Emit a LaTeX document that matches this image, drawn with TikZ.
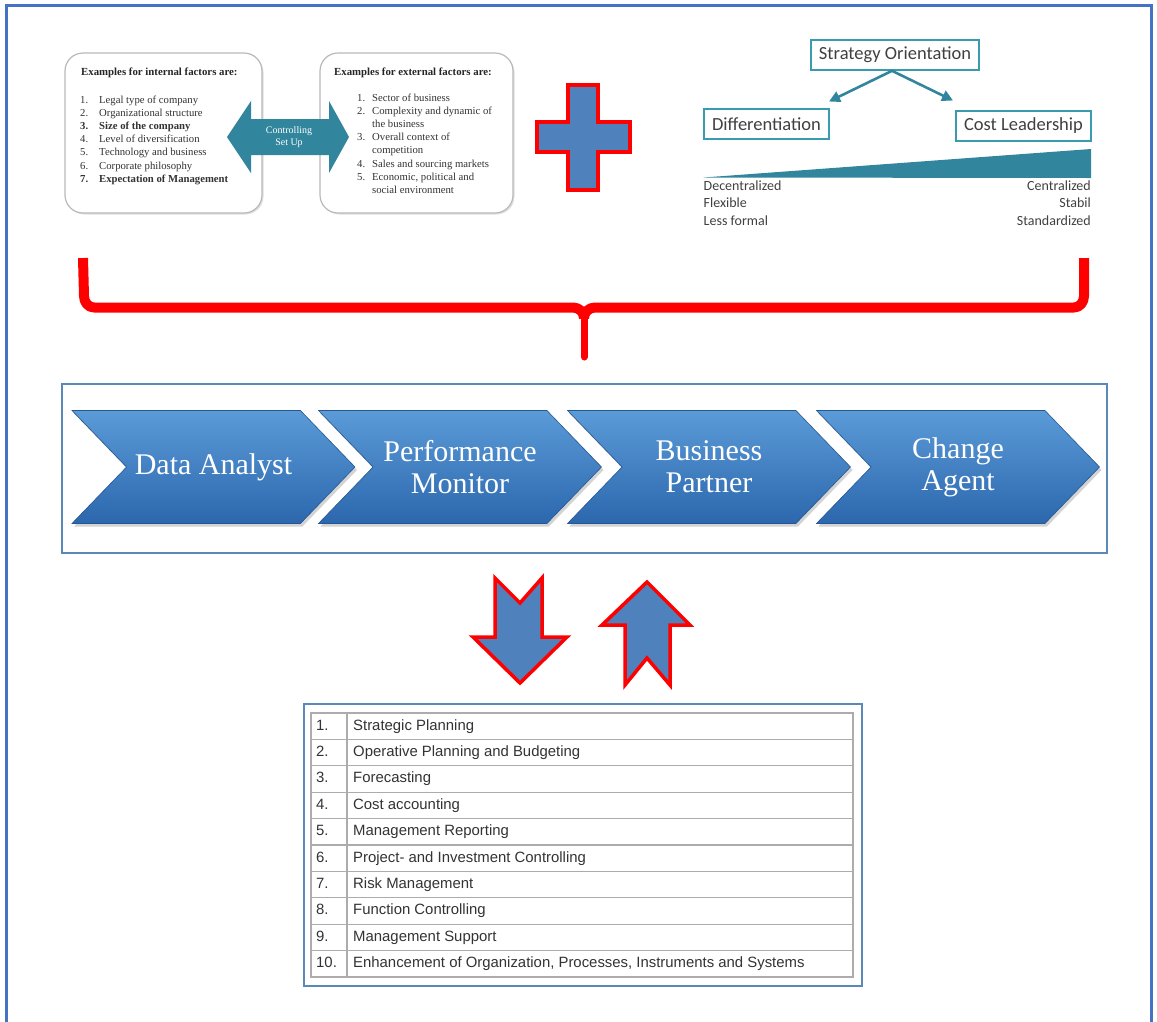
\documentclass[tikz,border=0pt]{standalone}
\usepackage{fontspec}
\setmainfont{Liberation Serif}
\newfontfamily\calibri{Carlito}
\newfontfamily\arial{Liberation Sans}
\usetikzlibrary{positioning,calc,shapes.symbols,shadows,arrows.meta}

\definecolor{frameblue}{HTML}{4472C4}
\definecolor{tealdark}{HTML}{31859C}
\definecolor{tealline}{HTML}{3A9BAF}
\definecolor{shapeblue}{HTML}{4F81BD}
\definecolor{chevtop}{HTML}{5B9BD8}
\definecolor{chevbot}{HTML}{2C67AD}
\definecolor{panelblue}{HTML}{5A88B8}

\begin{document}
\begin{tikzpicture}[
    x=1pt, y=-1pt,
    factorbox/.style={draw=gray!55, line width=1.2pt, fill=white, rounded corners=18pt,
        drop shadow={opacity=0.25, shadow xshift=1.5pt, shadow yshift=-1.5pt}},
    factortitle/.style={anchor=base west, inner sep=0pt, font=\fontsize{10.8}{12}\selectfont\bfseries, text=black!85},
    listitem/.style={anchor=base west, inner sep=0pt, font=\fontsize{10.7}{12}\selectfont, text=black!80},
    ctrllabel/.style={align=center, inner sep=0pt, text=white, font=\fontsize{10}{11.5}\selectfont},
    redshape/.style={fill=shapeblue, draw=red, line width=3.5pt, line join=miter},
    stratbox/.style={draw=tealline, line width=1.6pt, fill=white, inner xsep=8pt, minimum height=30pt,
        font=\calibri\fontsize{18.5}{20}\selectfont, text=black!75},
    stratarrow/.style={->, >={Triangle[length=11pt,width=11pt]}, draw=tealdark, line width=2.6pt},
    stratlabel/.style={inner sep=0pt, font=\calibri\fontsize{14}{16}\selectfont, text=black!75},
    brace/.style={draw=red, line width=10pt, line join=round},
    chevron/.style={signal, signal from=west, signal to=east, signal pointer angle=92,
        minimum width=283pt, minimum height=113pt, inner sep=0pt,
        top color=chevtop, bottom color=chevbot, draw=chevbot!85!black, line width=0.6pt,
        text=white, align=center, font=\fontsize{30}{32}\selectfont,
        drop shadow={opacity=0.35, shadow xshift=2pt, shadow yshift=-3pt}},
    tablebox/.style={draw=panelblue, line width=1.6pt, fill=white, minimum width=558pt, minimum height=282pt},
    rowline/.style={draw=gray!65, line width=1.3pt},
    cell/.style={anchor=base west, inner sep=0pt, font=\arial\fontsize{14.9}{16}\selectfont, text=black!80}
]
\useasboundingbox (0,0) rectangle (1157,1021);

% Outer frame
\draw[frameblue, line width=3pt] (6,1030) -- (6,5.5) -- (1151,5.5) -- (1151,1030);

% Internal and external factor boxes
\node[factorbox, minimum width=197pt, minimum height=160pt] (internal) at (163.5,133) {};
\node[factorbox, minimum width=193pt, minimum height=160pt] (external) at (416.5,133) {};

\node[factortitle] (inttitle) at (81,75) {Examples for internal factors are:};
\node[listitem] (intn1) at (80,103.5) {1.};
\node[listitem] (intt1) at (99,103.5) {Legal type of company};
\node[listitem] (intn2) at (80,116.6) {2.};
\node[listitem] (intt2) at (99,116.6) {Organizational structure};
\node[listitem] (intn3) at (80,129.7) {\textbf{3.}};
\node[listitem] (intt3) at (99,129.7) {\textbf{Size of the company}};
\node[listitem] (intn4) at (80,142.8) {4.};
\node[listitem] (intt4) at (99,142.8) {Level of diversification};
\node[listitem] (intn5) at (80,155.9) {5.};
\node[listitem] (intt5) at (99,155.9) {Technology and business};
\node[listitem] (intn6) at (80,169) {6.};
\node[listitem] (intt6) at (99,169) {Corporate philosophy};
\node[listitem] (intn7) at (80,182.1) {\textbf{7.}};
\node[listitem] (intt7) at (99,182.1) {\textbf{Expectation of Management}};

\node[factortitle] (exttitle) at (334,75) {Examples for external factors are:};
\node[listitem] (extn1) at (357,101.5) {1.};
\node[listitem] (extt1) at (372,101.5) {Sector of business};
\node[listitem] (extn2) at (357,114.6) {2.};
\node[listitem] (extt2) at (372,114.6) {Complexity and dynamic of};
\node[listitem] (extt2b) at (372,127.7) {the business};
\node[listitem] (extn3) at (357,140.8) {3.};
\node[listitem] (extt3) at (372,140.8) {Overall context of};
\node[listitem] (extt3b) at (372,153.9) {competition};
\node[listitem] (extn4) at (357,167) {4.};
\node[listitem] (extt4) at (372,167) {Sales and sourcing markets};
\node[listitem] (extn5) at (357,180.1) {5.};
\node[listitem] (extt5) at (372,180.1) {Economic, political and};
\node[listitem] (extt5b) at (372,193.2) {social environment};

% Controlling set up double arrow
\fill[tealdark] (227,137) -- (251,101) -- (251,119) -- (329,119) -- (329,101) -- (349,137)
    -- (329,173) -- (329,155) -- (251,155) -- (251,173) -- cycle;
\node[ctrllabel] (ctrl) at (289,137) {Controlling\\Set Up};

% Plus sign
\draw[redshape] (568,85) -- (598,85) -- (598,122) -- (630,122) -- (630,152) -- (598,152)
    -- (598,190) -- (568,190) -- (568,152) -- (537,152) -- (537,122) -- (568,122) -- cycle;

% Strategy orientation
\node[stratbox] (orient) at (895,55) {Strategy Orientation};
\node[stratbox] (diff) at (766.5,124) {Differentiation};
\node[stratbox] (cost) at (1023.5,126) {Cost Leadership};
\coordinate (difftip) at (829,101.5);
\coordinate (costtip) at (953,100.5);
\draw[stratarrow] ([xshift=-3pt]orient.south) -- (difftip);
\draw[stratarrow] ([xshift=-3pt]orient.south) -- (costtip);

\fill[tealdark] (703.5,177.5) -- (1091,149) -- (1091,178) -- cycle;
\node[stratlabel, anchor=base west] (decent) at (703.5,190) {Decentralized};
\node[stratlabel, anchor=base west] (flex) at (703.5,207.5) {Flexible};
\node[stratlabel, anchor=base west] (lessform) at (703.5,225) {Less formal};
\node[stratlabel, anchor=base east] (cent) at (1091,190) {Centralized};
\node[stratlabel, anchor=base east] (stabil) at (1091,207.5) {Stabil};
\node[stratlabel, anchor=base east] (stand) at (1091,225) {Standardized};

% Red brace
\draw[brace] (83,258) -- (84,296) to[out=-90,in=180] (94,307.5) -- (573,307.5) to[out=0,in=90] (584,318);
\draw[brace] (584,318) to[out=90,in=180] (595,307.5) -- (1074,307.5) to[out=0,in=-90] (1084,296) -- (1084,258);
\draw[red, line width=7pt, line cap=round] (584,312) -- (584,357);

% Controller roles
\draw[panelblue, line width=1.6pt] (62,384) rectangle (1107,553);
\node[chevron] (analyst) at (213.5,467) {Data Analyst};
\node[chevron] (monitor) at (460,467) {Performance\\Monitor};
\node[chevron] (partner) at (709,467) {Business\\Partner};
\node[chevron] (agent) at (958,467) {Change\\Agent};

% Up and down arrows
\draw[redshape] (495,578) -- (520,603) -- (542,578) -- (542,637) -- (567,637) -- (520,683)
    -- (473,637) -- (495,637) -- cycle;
\draw[redshape] (647,582) -- (690,625) -- (670,625) -- (670,685) -- (647,658) -- (625,685)
    -- (625,625) -- (602,625) -- cycle;

% Controlling tasks
\node[tablebox] (tasks) at (583,845) {};
\draw[rowline] (311,713) rectangle (853,977);
\draw[rowline] (347,713) -- (347,977);
\draw[rowline] (311,739.4) -- (853,739.4) (311,765.8) -- (853,765.8) (311,792.2) -- (853,792.2)
    (311,818.6) -- (853,818.6) (311,845) -- (853,845) (311,871.4) -- (853,871.4)
    (311,897.8) -- (853,897.8) (311,924.2) -- (853,924.2) (311,950.6) -- (853,950.6);

\node[cell] (num1) at (316,730) {1.};
\node[cell] (task1) at (353,730) {Strategic Planning};
\node[cell] (num2) at (316,756.4) {2.};
\node[cell] (task2) at (353,756.4) {Operative Planning and Budgeting};
\node[cell] (num3) at (316,782.8) {3.};
\node[cell] (task3) at (353,782.8) {Forecasting};
\node[cell] (num4) at (316,809.2) {4.};
\node[cell] (task4) at (353,809.2) {Cost accounting};
\node[cell] (num5) at (316,835.6) {5.};
\node[cell] (task5) at (353,835.6) {Management Reporting};
\node[cell] (num6) at (316,862) {6.};
\node[cell] (task6) at (353,862) {Project- and Investment Controlling};
\node[cell] (num7) at (316,888.4) {7.};
\node[cell] (task7) at (353,888.4) {Risk Management};
\node[cell] (num8) at (316,914.8) {8.};
\node[cell] (task8) at (353,914.8) {Function Controlling};
\node[cell] (num9) at (316,941.2) {9.};
\node[cell] (task9) at (353,941.2) {Management Support};
\node[cell] (num10) at (316,967.6) {10.};
\node[cell] (task10) at (353,967.6) {Enhancement of Organization, Processes, Instruments and Systems};

\end{tikzpicture}
\end{document}
